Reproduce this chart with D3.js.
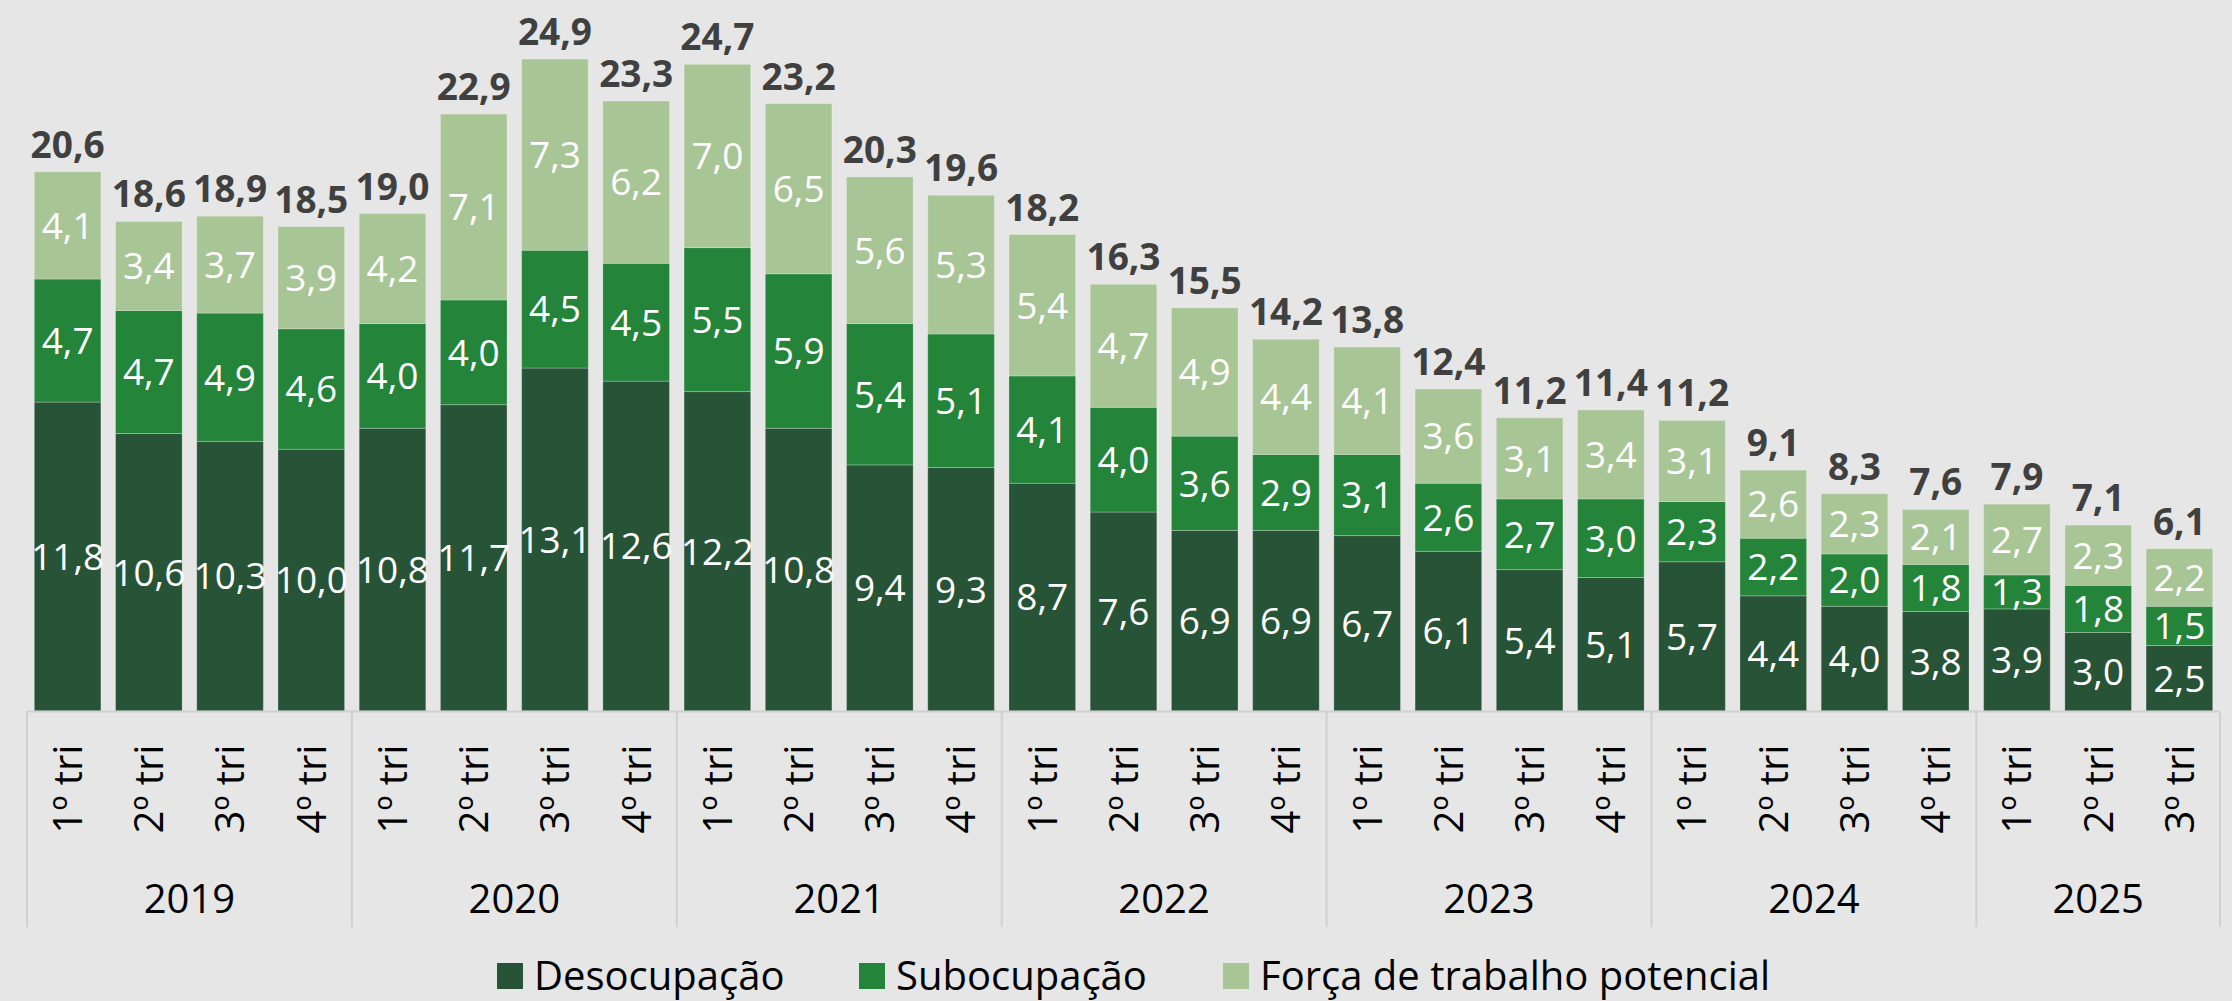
<!DOCTYPE html>
<html>
<head>
<meta charset="utf-8">
<script src="https://cdn.jsdelivr.net/npm/d3@7"></script>
<style>
    body { margin: 0; background: #e6e6e6; }
    svg { display: block; font-family: "Open Sans", "Noto Sans", sans-serif; }
</style>
</head>
<body>
<div id="chart"></div>
<script>

// data
var years = ["2019", "2020", "2021", "2022", "2023", "2024", "2025"];
var quarters = [
    "1º tri", "2º tri", "3º tri", "4º tri",
    "1º tri", "2º tri", "3º tri", "4º tri",
    "1º tri", "2º tri", "3º tri", "4º tri",
    "1º tri", "2º tri", "3º tri", "4º tri",
    "1º tri", "2º tri", "3º tri", "4º tri",
    "1º tri", "2º tri", "3º tri", "4º tri",
    "1º tri", "2º tri", "3º tri"
];
var seriesNames = ["Desocupação", "Subocupação", "Força de trabalho potencial"];
var desocupacao = [11.8, 10.6, 10.3, 10.0, 10.8, 11.7, 13.1, 12.6, 12.2, 10.8, 9.4, 9.3, 8.7, 7.6, 6.9, 6.9,
    6.7, 6.1, 5.4, 5.1, 5.7, 4.4, 4.0, 3.8, 3.9, 3.0, 2.5];
var subocupacao = [4.7, 4.7, 4.9, 4.6, 4.0, 4.0, 4.5, 4.5, 5.5, 5.9, 5.4, 5.1, 4.1, 4.0, 3.6, 2.9,
    3.1, 2.6, 2.7, 3.0, 2.3, 2.2, 2.0, 1.8, 1.3, 1.8, 1.5];
var forcaPotencial = [4.1, 3.4, 3.7, 3.9, 4.2, 7.1, 7.3, 6.2, 7.0, 6.5, 5.6, 5.3, 5.4, 4.7, 4.9, 4.4,
    4.1, 3.6, 3.1, 3.4, 3.1, 2.6, 2.3, 2.1, 2.7, 2.3, 2.2];
var totals = [20.6, 18.6, 18.9, 18.5, 19.0, 22.9, 24.9, 23.3, 24.7, 23.2, 20.3, 19.6, 18.2, 16.3, 15.5, 14.2,
    13.8, 12.4, 11.2, 11.4, 11.2, 9.1, 8.3, 7.6, 7.9, 7.1, 6.1];

var colors = ["#275336", "#23843a", "#a8c596"];

var width = 2232, height = 1001;
var left = 27, right = 2220, baseline = 711;

var svg = d3.select("#chart").append("svg")
    .attr("width", width)
    .attr("height", height);

var ids = d3.range(quarters.length);
var rows = ids.map(function(i) {
    return { i: i, d: desocupacao[i], s: subocupacao[i], f: forcaPotencial[i] };
});
var stack = d3.stack().keys(["d", "s", "f"]);
var layers = stack(rows);

var x = d3.scaleBand()
    .domain(ids)
    .range([left, right])
    .paddingInner(0.18)
    .paddingOuter(0.09);

var y = d3.scaleLinear()
    .domain([0, 26])
    .range([baseline, baseline - 26 * 26.18]);

var fmt = function(v) { return d3.format(".1f")(v).replace(".", ","); };

// bars
var layer = svg.selectAll(".layer")
    .data(layers)
    .enter().append("g")
    .attr("class", "layer")
    .attr("fill", function(d, k) { return colors[k]; });

layer.selectAll("rect")
    .data(function(d) { return d; })
    .enter().append("rect")
    .attr("x", function(d) { return x(d.data.i); })
    .attr("width", x.bandwidth())
    .attr("y", function(d) { return y(d[1]); })
    .attr("height", function(d) { return y(d[0]) - y(d[1]); })
    .attr("stroke", "rgba(255,255,255,0.25)")
    .attr("stroke-width", 1);

// segment labels
layer.selectAll(".seg")
    .data(function(d) { return d; })
    .enter().append("text")
    .attr("class", "seg")
    .attr("x", function(d) { return x(d.data.i) + x.bandwidth() / 2; })
    .attr("y", function(d) { return (y(d[0]) + y(d[1])) / 2; })
    .attr("dy", "0.36em")
    .attr("text-anchor", "middle")
    .attr("fill", "#ffffff")
    .attr("font-size", 37)
    .text(function(d) { return fmt(d[1] - d[0]); });

// totals on top
svg.selectAll(".total")
    .data(rows)
    .enter().append("text")
    .attr("class", "total")
    .attr("x", function(d) { return x(d.i) + x.bandwidth() / 2; })
    .attr("y", function(d) { return y(d.d + d.s + d.f) - 14; })
    .attr("text-anchor", "middle")
    .attr("fill", "#404040")
    .attr("font-size", 37)
    .attr("font-weight", "bold")
    .text(function(d) { return fmt(totals[d.i]); });

// category axis: baseline, dividers, quarter and year labels
var step = x.step();
var axisG = svg.append("g").attr("class", "axis");

axisG.append("line")
    .attr("x1", left).attr("x2", right)
    .attr("y1", baseline + 0.5).attr("y2", baseline + 0.5)
    .attr("stroke", "#d0d0d0").attr("stroke-width", 2);

var bounds = [0];
years.forEach(function(yr, k) {
    bounds.push(Math.min((k + 1) * 4, quarters.length));
});

axisG.selectAll(".divider")
    .data(bounds)
    .enter().append("line")
    .attr("class", "divider")
    .attr("x1", function(b) { return left + b * step; })
    .attr("x2", function(b) { return left + b * step; })
    .attr("y1", baseline)
    .attr("y2", 927)
    .attr("stroke", "#d0d0d0")
    .attr("stroke-width", 2);

axisG.selectAll(".quarter")
    .data(ids)
    .enter().append("text")
    .attr("class", "quarter")
    .attr("transform", function(i) {
        return "translate(" + (x(i) + x.bandwidth() / 2) + ",789) rotate(-90)";
    })
    .attr("dy", "0.36em")
    .attr("text-anchor", "middle")
    .attr("fill", "#000")
    .attr("font-size", 40)
    .text(function(i) { return quarters[i]; });

axisG.selectAll(".year")
    .data(years)
    .enter().append("text")
    .attr("class", "year")
    .attr("x", function(yr, k) { return left + (bounds[k] + bounds[k + 1]) / 2 * step; })
    .attr("y", 899)
    .attr("dy", "0.36em")
    .attr("text-anchor", "middle")
    .attr("fill", "#000")
    .attr("font-size", 40)
    .text(function(yr) { return yr; });

// legend
var legendX = [497, 859, 1223];
var legend = svg.selectAll(".legend")
    .data(seriesNames)
    .enter().append("g")
    .attr("class", "legend")
    .attr("transform", function(d, k) { return "translate(" + legendX[k] + ",963)"; });

legend.append("rect")
    .attr("width", 26)
    .attr("height", 26)
    .attr("fill", function(d, k) { return colors[k]; });

legend.append("text")
    .attr("x", 37)
    .attr("y", 13)
    .attr("dy", "0.36em")
    .attr("fill", "#000")
    .attr("font-size", 40)
    .text(function(d) { return d; });

</script>
</body>
</html>
